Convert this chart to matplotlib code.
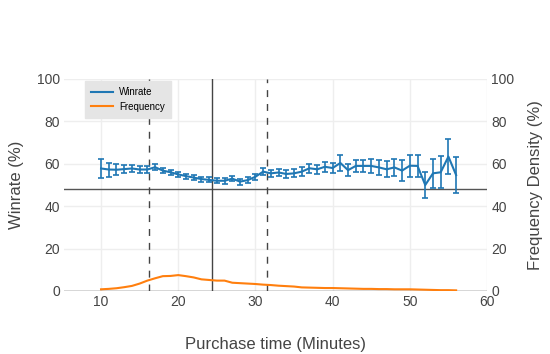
import matplotlib
matplotlib.use("Agg")
import matplotlib.pyplot as plt
from matplotlib.lines import Line2D

plt.rcParams['font.family'] = ['Liberation Sans', 'DejaVu Sans']

minutes = list(range(10, 57))
winrate = [57.8, 57.3, 57.2, 57.5, 57.8, 57.3, 57.3, 58.4, 56.8, 56.0,
           55.0, 54.2, 53.5, 52.8, 52.4, 52.0, 52.0, 53.0, 51.6, 52.3,
           53.9, 56.3, 55.5, 55.9, 55.2, 55.5, 56.3, 57.9, 57.4, 58.6,
           58.0, 60.4, 57.0, 59.0, 59.0, 59.0, 58.3, 57.4, 58.3, 56.8,
           59.1, 59.0, 50.0, 55.5, 56.0, 63.4, 54.7]
winrate_err = [4.5, 3.3, 2.5, 2.0, 1.8, 1.6, 1.5, 1.4, 1.3, 1.2,
               1.2, 1.2, 1.2, 1.2, 1.2, 1.2, 1.3, 1.3, 1.4, 1.4,
               1.5, 1.6, 1.7, 1.7, 1.8, 1.9, 2.0, 2.1, 2.2, 2.3,
               2.4, 3.8, 2.8, 2.9, 3.0, 3.3, 3.4, 3.7, 3.9, 5.0,
               5.1, 5.3, 6.3, 7.0, 7.5, 8.3, 8.6]
frequency = [0.8, 1.0, 1.3, 1.8, 2.4, 3.5, 4.9, 6.0, 7.0, 7.1,
             7.5, 7.0, 6.4, 5.5, 5.2, 4.9, 4.9, 3.9, 3.7, 3.5,
             3.3, 3.0, 2.8, 2.5, 2.3, 2.1, 1.7, 1.6, 1.5, 1.4,
             1.4, 1.3, 1.2, 1.1, 1.0, 1.0, 0.9, 0.9, 0.8, 0.8,
             0.8, 0.7, 0.6, 0.5, 0.4, 0.4, 0.3]
baseline = 48
median_time = 24.4
quartiles = [16.2, 31.5]

blue = '#1f77b4'
orange = '#ff7f0e'
tick_color = '#444444'

fig = plt.figure(figsize=(5.5, 3.54), dpi=100)
ax = fig.add_axes([64 / 550, 63 / 354, 423 / 550, 212 / 354])
ax2 = ax.twinx()

ax.set_xlim(5.2, 60)
ax.set_ylim(0, 100)
ax2.set_ylim(0, 100)
ax.set_xticks([10, 20, 30, 40, 50, 60])
ax.set_yticks([0, 20, 40, 60, 80, 100])
ax2.set_yticks([0, 20, 40, 60, 80, 100])

for a in (ax, ax2):
    for s in a.spines.values():
        s.set_visible(False)
    a.tick_params(length=0, labelsize=10, colors=tick_color, pad=3)
ax.grid(True, color='#eeeeee', linewidth=1)
ax.set_axisbelow(True)

ax.axhline(baseline, color='#555555', linewidth=1, zorder=1)
ax.axhline(0, color='#444444', linewidth=1, zorder=1)
ax.axvline(median_time, color='#444444', linewidth=1, zorder=1)
for q in quartiles:
    ax.axvline(q, color='#444444', linewidth=1, linestyle=(0, (5, 5)), zorder=1)

ax.errorbar(minutes, winrate, yerr=winrate_err, color=blue, linewidth=1.5,
            elinewidth=1.2, capsize=2.5, capthick=1.2, zorder=3)
ax2.plot(minutes, frequency, color=orange, linewidth=1.5, zorder=3)

ax.set_xlabel('Purchase time (Minutes)', fontsize=12, color=tick_color, labelpad=20)
ax.set_ylabel('Winrate (%)', fontsize=12, color=tick_color, labelpad=9)
ax2.set_ylabel('Frequency Density (%)', fontsize=12, color=tick_color, labelpad=10)

handles = [Line2D([], [], color=blue, linewidth=1.5), Line2D([], [], color=orange, linewidth=1.5)]
leg = ax2.legend(handles, ['Winrate', 'Frequency'], loc='upper left',
                 bbox_to_anchor=(0.05, 0.99), borderaxespad=0, fontsize=7,
                 frameon=True, fancybox=False, handlelength=2.3,
                 handletextpad=0.6, borderpad=0.6, labelspacing=0.5)
leg.get_frame().set_facecolor('#e5e5e5')
leg.get_frame().set_edgecolor('#e5e5e5')
leg.get_frame().set_alpha(1)

fig.savefig('out.png', dpi=100)
